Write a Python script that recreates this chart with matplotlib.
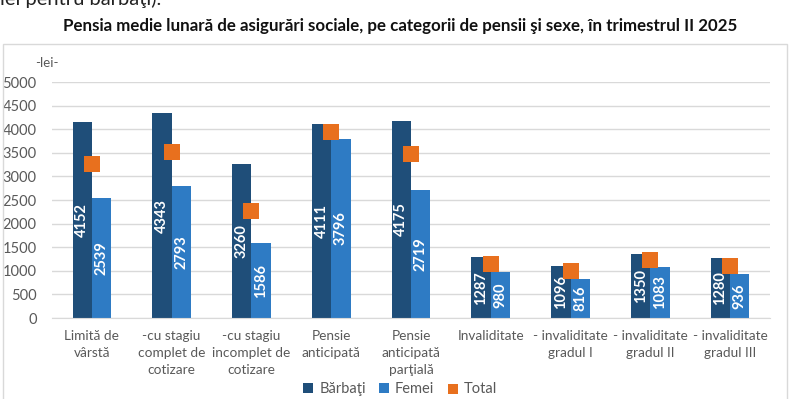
import matplotlib
matplotlib.use("Agg")
import matplotlib.pyplot as plt
from matplotlib.patches import Rectangle
import numpy as np

plt.rcParams['font.family'] = ['Lato', 'DejaVu Sans']

categories = ["Limită de\nvârstă", "-cu stagiu\ncomplet de\ncotizare", "-cu stagiu\nincomplet de\ncotizare",
              "Pensie\nanticipată", "Pensie\nanticipată\nparţială", "Invaliditate",
              "- invaliditate\ngradul I", "- invaliditate\ngradul II", "- invaliditate\ngradul III"]
barbati = [4152, 4343, 3260, 4111, 4175, 1287, 1096, 1350, 1280]
femei = [2539, 2793, 1586, 3796, 2719, 980, 816, 1083, 936]
total = [3270, 3510, 2270, 3940, 3470, 1150, 990, 1225, 1100]
yticks = [0, 500, 1000, 1500, 2000, 2500, 3000, 3500, 4000, 4500, 5000]

C_B = "#1F4E79"
C_F = "#2E7BC4"
C_T = "#E8701E"
GRAY = "#595959"

fig = plt.figure(figsize=(8, 3.99), dpi=100)
fig.patch.set_facecolor("white")

# chart frame
fig.patches.append(Rectangle((3/800, -0.05), 784/800, 1 - 44/399 + 0.05, transform=fig.transFigure,
                             fill=False, edgecolor="#D9D9D9", linewidth=1.0))

# partial document text at top
fig.text(0/800, 1 + 1/399, "lei pentru bărbaţi).", fontsize=14.5, color="#222222", va="center", ha="left")

fig.text(0.5, 1 - 26/399, "Pensia medie lunară de asigurări sociale, pe categorii de pensii şi sexe, în trimestrul II 2025",
         fontsize=12.2, fontweight="bold", ha="center", va="center", color="#111111")

ax = fig.add_axes([52/800, 1 - 318/399, 718/800, 236/399])
ax.set_facecolor("none")
x = np.arange(len(categories))
w = 0.242
bb = ax.bar(x - w/2, barbati, width=w, color=C_B, label="Bărbaţi", zorder=2)
bf = ax.bar(x + w/2, femei, width=w, color=C_F, label="Femei", zorder=2)
st = ax.scatter(x, total, marker="s", s=120, color=C_T, label="Total", zorder=4, linewidths=0)

for xi, v in zip(x - w/2, barbati):
    ax.text(xi, v/2, str(v), rotation=90, ha="center", va="center", color="white",
            fontsize=10.5, fontweight="bold", zorder=3)
for xi, v in zip(x + w/2, femei):
    ax.text(xi, v/2, str(v), rotation=90, ha="center", va="center", color="white",
            fontsize=10.5, fontweight="bold", zorder=3)

ax.set_xlim(-0.5, len(categories) - 0.5)
ax.set_ylim(0, 5000)
ax.set_yticks(yticks)
ax.set_yticklabels([str(t) for t in yticks])
ax.grid(axis="y", color="#D9D9D9", linewidth=1.0, zorder=0)
ax.set_axisbelow(True)
for s in ["top", "right", "left"]:
    ax.spines[s].set_visible(False)
ax.spines["bottom"].set_color("#D9D9D9")
ax.tick_params(axis="y", length=0, labelsize=10.5, labelcolor=GRAY, pad=11)
ax.tick_params(axis="x", length=0, labelsize=9.8, labelcolor=GRAY, pad=9)
ax.set_xticks(x)
ax.set_xticklabels(categories, linespacing=1.45)

fig.text(47/800, 1 - 63/399, "-lei-", fontsize=9.5, color=GRAY, ha="center", va="center")

leg = fig.legend(handles=[bb, bf, st], labels=["Bărbaţi", "Femei", "Total"], loc="center",
                 bbox_to_anchor=(0.5, 1 - 389/399), ncol=3, frameon=False, fontsize=10.5,
                 handlelength=0.7, handleheight=0.7, handletextpad=0.4, columnspacing=0.9,
                 labelcolor=GRAY)
for h in leg.legend_handles:
    try:
        h.set_sizes([50])
    except Exception:
        pass

fig.savefig("out.png", dpi=100, facecolor="white")
